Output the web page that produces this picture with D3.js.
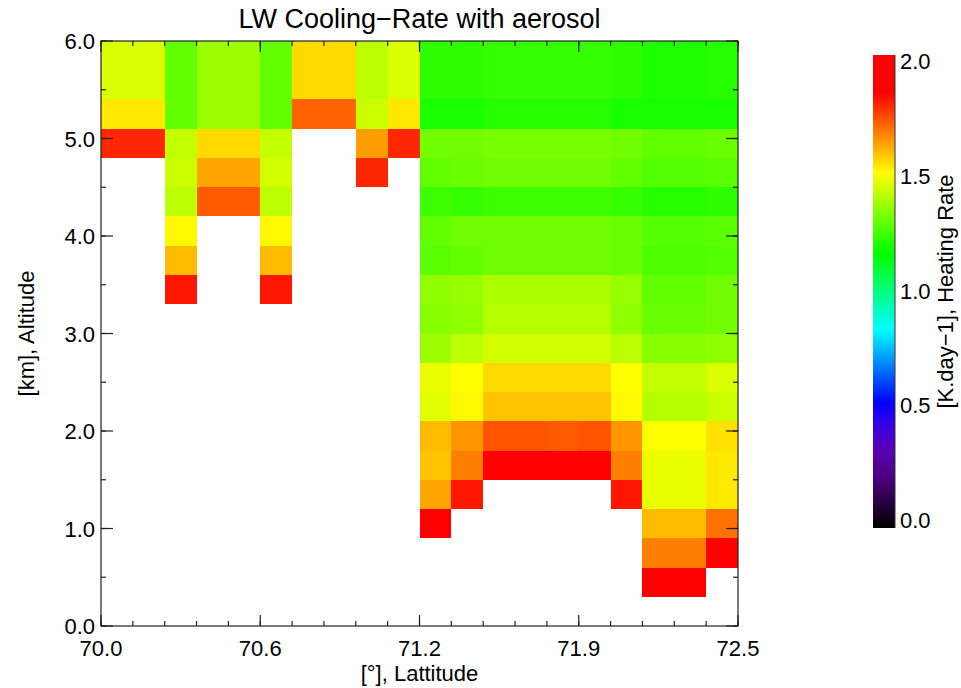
<!DOCTYPE html>
<html>
<head>
<meta charset="utf-8">
<script src="https://cdn.jsdelivr.net/npm/d3@7"></script>
<style>
  html, body { margin: 0; padding: 0; background: #fff; }
  svg text { font-family: "Liberation Sans", Arial, Helvetica, sans-serif; fill: #000; }
</style>
</head>
<body>
<svg id="chart" width="961" height="688"></svg>
<script>
// ---- data ----
const title = "LW Cooling\u2212Rate with aerosol";
const xLabel = "[\u00b0], Lattitude";
const yLabel = "[km], Altitude";
const cbLabel = "[K.day\u22121], Heating Rate";

// left edge of each latitude column (deg), width 0.125
const latitudes = [70.0, 70.125, 70.25, 70.375, 70.5, 70.625, 70.75, 70.875, 71.0, 71.125,
                   71.25, 71.375, 71.5, 71.625, 71.75, 71.875, 72.0, 72.125, 72.25, 72.375];
const latStep = 0.125;
// bottom of each altitude row (km), top row first, height 0.3
const altitudes = [5.7, 5.4, 5.1, 4.8, 4.5, 4.2, 3.9, 3.6, 3.3, 3.0,
                   2.7, 2.4, 2.1, 1.8, 1.5, 1.2, 0.9, 0.6, 0.3, 0.0];
const altStep = 0.3;
const N = null;
// heating rate [K/day], rows follow `altitudes`, columns follow `latitudes`
const rates = [
  [1.45,1.45,1.29,1.37,1.37,1.29,1.55,1.55,1.41,1.45, 1.22,1.22,1.23,1.23,1.23,1.23,1.22,1.20,1.20,1.21],
  [1.45,1.45,1.29,1.37,1.37,1.29,1.55,1.55,1.41,1.45, 1.22,1.22,1.23,1.23,1.23,1.23,1.22,1.20,1.20,1.21],
  [1.53,1.53,1.29,1.37,1.37,1.29,1.71,1.71,1.43,1.53, 1.19,1.19,1.21,1.21,1.21,1.21,1.19,1.19,1.19,1.19],
  [1.79,1.79,1.42,1.55,1.55,1.42,N,N,1.63,1.79,       1.31,1.31,1.32,1.32,1.32,1.32,1.31,1.29,1.29,1.30],
  [N,N,1.43,1.62,1.62,1.44,N,N,1.79,N,                1.29,1.30,1.31,1.31,1.31,1.31,1.29,1.27,1.27,1.28],
  [N,N,1.41,1.72,1.72,1.41,N,N,N,N,                   1.24,1.23,1.24,1.24,1.24,1.24,1.23,1.21,1.21,1.22],
  [N,N,1.51,N,N,1.51,N,N,N,N,                         1.29,1.31,1.31,1.31,1.31,1.31,1.30,1.27,1.27,1.28],
  [N,N,1.59,N,N,1.59,N,N,N,N,                         1.28,1.29,1.31,1.31,1.31,1.31,1.30,1.26,1.26,1.27],
  [N,N,1.81,N,N,1.81,N,N,N,N,                         1.35,1.36,1.39,1.39,1.39,1.39,1.36,1.29,1.29,1.31],
  [N,N,N,N,N,N,N,N,N,N,                               1.34,1.35,1.40,1.40,1.40,1.40,1.35,1.30,1.30,1.31],
  [N,N,N,N,N,N,N,N,N,N,                               1.37,1.41,1.44,1.44,1.44,1.44,1.41,1.34,1.34,1.35],
  [N,N,N,N,N,N,N,N,N,N,                               1.47,1.50,1.55,1.55,1.55,1.55,1.50,1.42,1.42,1.45],
  [N,N,N,N,N,N,N,N,N,N,                               1.46,1.51,1.58,1.58,1.58,1.58,1.51,1.40,1.40,1.43],
  [N,N,N,N,N,N,N,N,N,N,                               1.59,1.64,1.73,1.73,1.72,1.73,1.64,1.50,1.50,1.54],
  [N,N,N,N,N,N,N,N,N,N,                               1.58,1.67,1.90,1.90,1.90,1.90,1.67,1.47,1.47,1.53],
  [N,N,N,N,N,N,N,N,N,N,                               1.62,1.81,N,N,N,N,1.81,1.47,1.47,1.53],
  [N,N,N,N,N,N,N,N,N,N,                               1.90,N,N,N,N,N,N,1.59,1.59,1.69],
  [N,N,N,N,N,N,N,N,N,N,                               N,N,N,N,N,N,N,1.67,1.67,1.90],
  [N,N,N,N,N,N,N,N,N,N,                               N,N,N,N,N,N,N,1.90,1.90,N],
  [N,N,N,N,N,N,N,N,N,N,                               N,N,N,N,N,N,N,N,N,N]
];
const xTickValues = [70.0, 70.625, 71.25, 71.875, 72.5];
const xTickLabels = ["70.0", "70.6", "71.2", "71.9", "72.5"];
const yTickValues = [0, 1, 2, 3, 4, 5, 6];
const yTickLabels = ["0.0", "1.0", "2.0", "3.0", "4.0", "5.0", "6.0"];
const cbTickValues = [0, 0.5, 1.0, 1.5, 2.0];
const cbTickLabels = ["0.0", "0.5", "1.0", "1.5", "2.0"];
// colour table (value -> colour), IDL-like rainbow
const cmapStops = [0.0, 0.2, 0.33, 0.45, 0.53, 0.84, 1.0, 1.16, 1.5, 1.84, 2.0];
const cmapColors = ["#000000", "#4b0078", "#5a00b4", "#3200eb", "#0000ff", "#00ffff",
                    "#00ff80", "#00ff00", "#ffff00", "#ff0000", "#ff0000"];

// ---- layout ----
const svg = d3.select("#chart");
const plot = { left: 101, right: 738, top: 41, bottom: 626 };
const x = d3.scaleLinear().domain([70.0, 72.5]).range([plot.left, plot.right]);
const y = d3.scaleLinear().domain([0, 6]).range([plot.bottom, plot.top]);
const color = d3.scaleLinear().domain(cmapStops).range(cmapColors).clamp(true);
const snap = v => Math.round(v * 1e6) / 1e6;

// cells
const cells = [];
rates.forEach((row, ri) => row.forEach((v, ci) => {
  if (v !== null) cells.push({ lat: latitudes[ci], alt: altitudes[ri], v });
}));
svg.append("g").attr("shape-rendering", "crispEdges")
  .selectAll("rect").data(cells).join("rect")
  .attr("x", d => Math.round(x(d.lat)))
  .attr("width", d => Math.round(x(snap(d.lat + latStep))) - Math.round(x(d.lat)))
  .attr("y", d => Math.round(y(snap(d.alt + altStep))))
  .attr("height", d => Math.round(y(d.alt)) - Math.round(y(snap(d.alt + altStep))))
  .attr("fill", d => color(d.v));

// axes (ticks inward, mirrored on all sides)
const axisColor = "#222";
const xMinor = d3.range(0, 21).map(i => 70.0 + i * 0.125);
const yMinor = d3.range(0, 13).map(i => i * 0.5);
const frame = svg.append("g").attr("stroke", axisColor).attr("stroke-width", 1.2).attr("fill", "none");
frame.append("rect").attr("x", plot.left).attr("y", plot.top)
  .attr("width", plot.right - plot.left).attr("height", plot.bottom - plot.top);

function xTicks(vals, len) {
  vals.forEach(v => {
    const px = x(v);
    frame.append("line").attr("x1", px).attr("x2", px).attr("y1", plot.bottom).attr("y2", plot.bottom - len);
    frame.append("line").attr("x1", px).attr("x2", px).attr("y1", plot.top).attr("y2", plot.top + len);
  });
}
function yTicks(vals, len) {
  vals.forEach(v => {
    const py = y(v);
    frame.append("line").attr("y1", py).attr("y2", py).attr("x1", plot.left).attr("x2", plot.left + len);
    frame.append("line").attr("y1", py).attr("y2", py).attr("x1", plot.right).attr("x2", plot.right - len);
  });
}
xTicks(xMinor, 5); xTicks(xTickValues, 11);
yTicks(yMinor, 5); yTicks(yTickValues, 12);

// tick labels
svg.append("g").selectAll("text").data(xTickValues).join("text")
  .attr("x", d => x(d)).attr("y", 656)
  .attr("text-anchor", "middle").attr("font-size", 22)
  .text((d, i) => xTickLabels[i]);
svg.append("g").selectAll("text").data(yTickValues).join("text")
  .attr("x", 95).attr("y", d => y(d) + 8)
  .attr("text-anchor", "end").attr("font-size", 22)
  .text((d, i) => yTickLabels[i]);

// titles
svg.append("text").attr("x", (plot.left + plot.right) / 2).attr("y", 28)
  .attr("text-anchor", "middle").attr("font-size", 27).text(title);
svg.append("text").attr("x", (plot.left + plot.right) / 2).attr("y", 681)
  .attr("text-anchor", "middle").attr("font-size", 22).text(xLabel);
svg.append("text")
  .attr("transform", `translate(34,${(plot.top + plot.bottom) / 2}) rotate(-90)`)
  .attr("text-anchor", "middle").attr("font-size", 22).text(yLabel);

// colour bar
const cb = { x: 873, w: 22, top: 55, bottom: 528 };
const defs = svg.append("defs");
const grad = defs.append("linearGradient").attr("id", "cbgrad")
  .attr("x1", 0).attr("y1", 1).attr("x2", 0).attr("y2", 0);
d3.range(0, 101).map(i => i * 0.02).forEach(v => {
  grad.append("stop").attr("offset", v / 2).attr("stop-color", color(v));
});
svg.append("rect").attr("x", cb.x).attr("y", cb.top).attr("width", cb.w)
  .attr("height", cb.bottom - cb.top).attr("fill", "url(#cbgrad)");
svg.append("line").attr("x1", cb.x + cb.w).attr("x2", cb.x + cb.w)
  .attr("y1", cb.top).attr("y2", cb.bottom).attr("stroke", "#333").attr("stroke-width", 1);
const cbScale = d3.scaleLinear().domain([0, 2]).range([520, 61]);
svg.append("g").selectAll("text").data(cbTickValues).join("text")
  .attr("x", 900).attr("y", d => cbScale(d) + 8)
  .attr("font-size", 22)
  .text((d, i) => cbTickLabels[i]);
svg.append("text")
  .attr("transform", `translate(953,${(cb.top + cb.bottom) / 2}) rotate(-90)`)
  .attr("text-anchor", "middle").attr("font-size", 22).text(cbLabel);
</script>
</body>
</html>
